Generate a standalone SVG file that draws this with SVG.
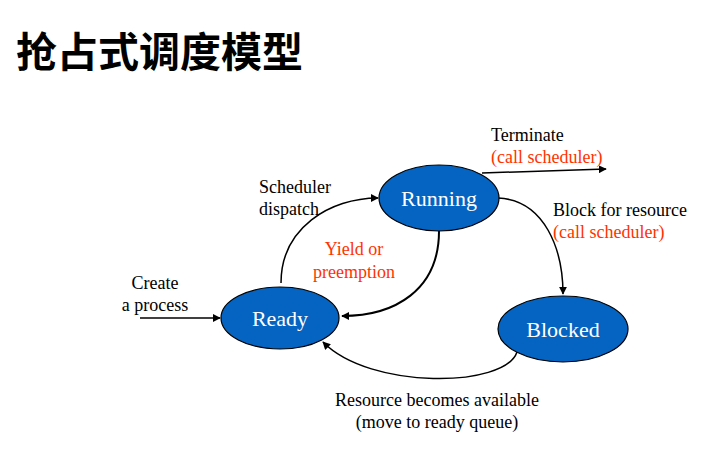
<svg xmlns="http://www.w3.org/2000/svg" width="710" height="467" viewBox="0 0 710 467">
<defs>
<marker id="arr" viewBox="0 0 10 10" refX="9" refY="5" markerWidth="8" markerHeight="8" markerUnits="userSpaceOnUse" orient="auto">
<path d="M0,0 L10,5 L0,10 z" fill="#000"/>
</marker>
</defs>
<style>
.node{fill:#0563C1;stroke:#000;stroke-width:1.2}
.nl{font-family:"Liberation Serif","Times New Roman",serif;font-size:22px;fill:#fff;text-anchor:middle}
.lb{font-family:"Liberation Serif","Times New Roman",serif;font-size:18px;fill:#000}
.red{fill:#FF3300}
.c{text-anchor:middle}
.edge{fill:none;stroke:#000;stroke-width:1.5;marker-end:url(#arr)}
.title{font-family:"Noto Sans CJK SC","Noto Sans",sans-serif;font-size:41px;font-weight:bold;fill:#000}
</style>
<rect width="710" height="467" fill="#fff"/>
<text class="title" x="16" y="67">抢占式调度模型</text>
<g id="connectors">
<path class="edge" d="M140,318 L220,318"/>
<path class="edge" d="M281,283 C281,228 330,198 378,198"/>
<path class="edge" style="stroke-width:2" d="M439,231 C439,290 395,316 342,316"/>
<path class="edge" d="M482,173 L606,169"/>
<path class="edge" d="M498,198 C545,200 563,250 563,294"/>
<path class="edge" d="M517,352 C505,388 370,390 323,342"/>
</g>
<g id="running">
<ellipse class="node" cx="439" cy="198" rx="60" ry="33"/>
<text class="nl" x="439" y="206">Running</text>
</g>
<g id="ready">
<ellipse class="node" cx="280" cy="318" rx="59" ry="31"/>
<text class="nl" x="280" y="326">Ready</text>
</g>
<g id="blocked">
<ellipse class="node" cx="563" cy="329" rx="65" ry="33"/>
<text class="nl" x="563" y="337">Blocked</text>
</g>
<g id="labels">
<text class="lb" x="491" y="141">Terminate</text>
<text class="lb red" x="491" y="163">(call scheduler)</text>
<text class="lb" x="553" y="216">Block for resource</text>
<text class="lb red" x="553" y="238">(call scheduler)</text>
<text class="lb" x="259" y="193">Scheduler</text>
<text class="lb" x="259" y="215">dispatch</text>
<text class="lb red c" x="354" y="255">Yield or</text>
<text class="lb red c" x="354" y="278">preemption</text>
<text class="lb c" x="155" y="289">Create</text>
<text class="lb c" x="155" y="311">a process</text>
<text class="lb c" x="437" y="406">Resource becomes available</text>
<text class="lb c" x="437" y="428">(move to ready queue)</text>
</g>
</svg>
